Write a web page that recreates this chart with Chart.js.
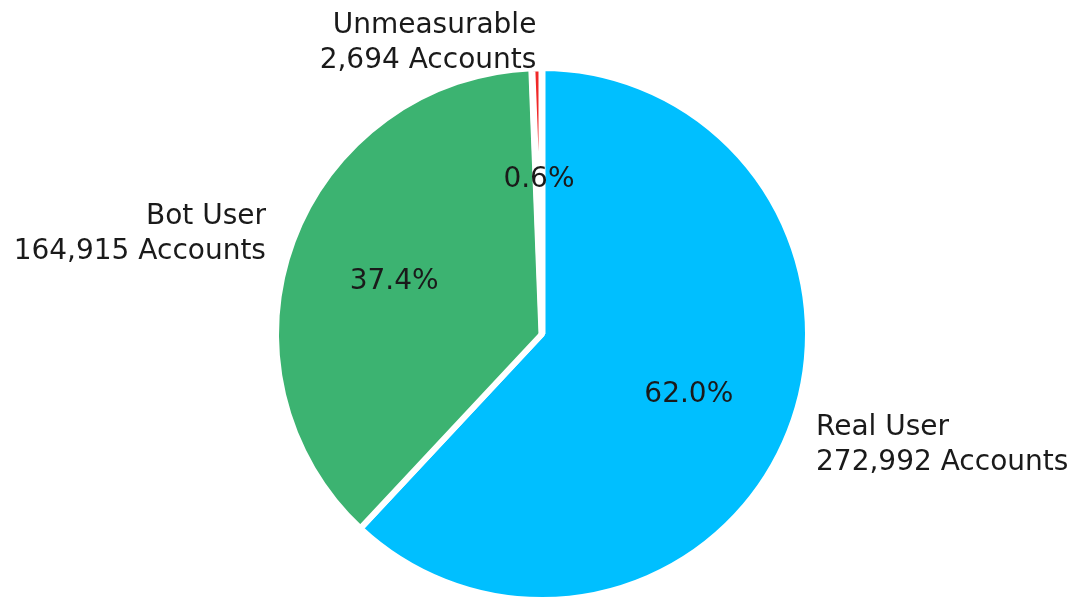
<!DOCTYPE html>
<html>
<head>
<meta charset="utf-8">
<title>Account breakdown</title>
<script src="https://cdn.jsdelivr.net/npm/chart.js@4.4.0/dist/chart.umd.min.js"></script>
<style>
  html, body { margin: 0; padding: 0; background: #fff; }
  #wrap { width: 1088px; height: 597px; }
</style>
</head>
<body>
<div id="wrap"><canvas id="pie" width="1088" height="597"></canvas></div>
<script>
// data
const categories = ['Real User', 'Bot User', 'Unmeasurable'];
const accounts = [272992, 164915, 2694];
const sliceColors = ['#00bfff', '#3cb371', '#f02828'];
const edgeWidths = [6, 6, 7];

const total = accounts.reduce((a, b) => a + b, 0);
const FONT_SIZE = 28;
const LINE_H = 35;

/**
 * Percent inside each slice, name + count outside (matplotlib-like placement)
 */
const pieLabels = {
    id: 'pieLabels',
    afterDatasetsDraw(chart) {
        const ctx = chart.ctx;
        const meta = chart.getDatasetMeta(0);
        ctx.save();
        ctx.fillStyle = '#1a1a1a';
        ctx.font = FONT_SIZE + 'px "DejaVu Sans"';
        ctx.textBaseline = 'alphabetic';
        meta.data.forEach((arc, i) => {
            const { x, y, startAngle, endAngle, outerRadius } =
                arc.getProps(['x', 'y', 'startAngle', 'endAngle', 'outerRadius'], true);
            const r = outerRadius - edgeWidths[i] / 2;
            const mid = (startAngle + endAngle) / 2;
            const cos = Math.cos(mid), sin = Math.sin(mid);

            const pct = (accounts[i] / total * 100).toFixed(1) + '%';
            ctx.textAlign = 'center';
            ctx.fillText(pct, x + cos * r * 0.6, y + sin * r * 0.6 + FONT_SIZE * 0.36);

            const lx = x + cos * r * 1.12, ly = y + sin * r * 1.12;
            ctx.textAlign = cos >= 0 ? 'left' : 'right';
            const lines = [categories[i], accounts[i].toLocaleString('en-US') + ' Accounts'];
            lines.forEach((t, k) => {
                const cy = ly + (k - (lines.length - 1) / 2) * LINE_H;
                ctx.fillText(t, lx, cy + FONT_SIZE * 0.36);
            });
        });
        ctx.restore();
    }
};

new Chart(document.getElementById('pie'), {
    type: 'pie',
    data: {
        labels: categories,
        datasets: [{
            data: accounts,
            backgroundColor: sliceColors,
            borderColor: '#ffffff',
            borderWidth: edgeWidths,
            hoverOffset: 0,
            clip: false,
        }]
    },
    options: {
        responsive: false,
        animation: false,
        radius: 266,
        layout: { padding: { left: 0, right: 4, top: 71, bottom: 0 } },
        plugins: {
            legend: { display: false },
            tooltip: { enabled: false },
        }
    },
    plugins: [pieLabels]
});
</script>
</body>
</html>
